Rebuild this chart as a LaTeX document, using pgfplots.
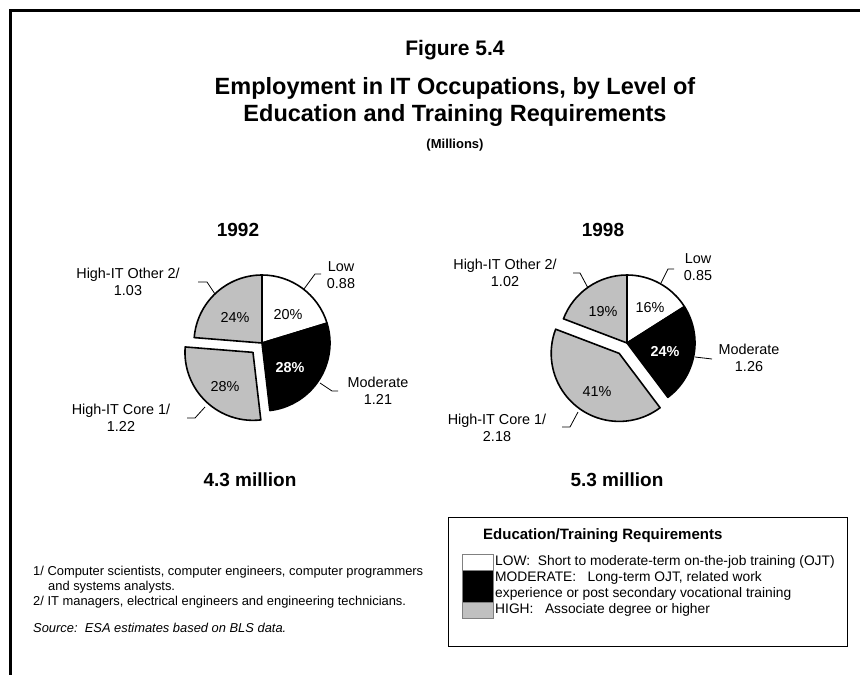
\documentclass[border=0pt]{standalone}
\usepackage{fontspec}
\setmainfont{Liberation Sans}
\usepackage{pgfplots}
\pgfplotsset{compat=1.18}
\usetikzlibrary{calc}

\definecolor{pieGray}{RGB}{192,192,192}

% employment, millions
\def\LowA{0.88}\def\ModA{1.21}\def\CoreA{1.22}\def\OthA{1.03}   % 1992
\def\LowB{0.85}\def\ModB{1.26}\def\CoreB{2.18}\def\OthB{1.02}   % 1998

\pgfmathsetmacro\TotA{\LowA+\ModA+\CoreA+\OthA}
\pgfmathsetmacro\aAi{90-360*\LowA/\TotA}
\pgfmathsetmacro\aAii{\aAi-360*\ModA/\TotA}
\pgfmathsetmacro\aAiii{\aAii-360*\CoreA/\TotA}
\pgfmathsetmacro\TotB{\LowB+\ModB+\CoreB+\OthB}
\pgfmathsetmacro\aBi{90-360*\LowB/\TotB}
\pgfmathsetmacro\aBii{\aBi-360*\ModB/\TotB}
\pgfmathsetmacro\aBiii{\aBii-360*\CoreB/\TotB}

% center x, center y, start, end, fill, explode
\newcommand\slice[6]{%
  \filldraw[fill=#5,draw=black,line width=1.6pt,line join=round]
    ($(axis cs:#1,#2)+({(#3+#4)/2}:#6pt)$) -- ++(#3:68pt)
    arc[start angle=#3,end angle=#4,radius=68pt] -- cycle;}

\tikzset{
  lbl/.style={align=center,inner sep=0pt,font=\fontsize{14.4}{16.5}\selectfont},
  small/.style={anchor=west,inner sep=0pt,font=\fontsize{12.9}{15}\selectfont},
  leg/.style={anchor=west,inner sep=0pt,font=\fontsize{13.8}{16}\selectfont},
  big/.style={inner sep=0pt,font=\fontsize{19}{22}\selectfont\bfseries},
  lead/.style={draw=black,line width=0.8pt},
}

\begin{document}
\begin{tikzpicture}
\begin{axis}[
  width=860pt,height=675pt,scale only axis,
  xmin=0,xmax=860,ymin=0,ymax=675,y dir=reverse,
  hide axis,clip=false,
]
% frame
\draw[line width=3pt] (axis cs:10.5,675) -- (axis cs:10.5,10.5) -- (axis cs:860,10.5);

% titles
\node[inner sep=0pt,font=\fontsize{21}{24}\selectfont\bfseries] at (axis cs:455,50) {Figure 5.4};
\node[inner sep=0pt,align=center,font=\fontsize{23.5}{27}\selectfont\bfseries] at (axis cs:455,102)
  {Employment in IT Occupations, by Level of\\Education and Training Requirements};
\node[inner sep=0pt,font=\fontsize{13}{15}\selectfont\bfseries] at (axis cs:455,145) {(Millions)};

% 1992 pie
\slice{262}{343}{90}{\aAi}{white}{0}
\slice{262}{343}{\aAi}{\aAii}{black}{0}
\slice{262}{343}{\aAii}{\aAiii}{pieGray}{13}
\slice{262}{343}{\aAiii}{-270}{pieGray}{0}
\node[big] at (axis cs:238,230) {1992};
\node[lbl] at (axis cs:288,315) {20\%};
\node[lbl] at (axis cs:235,318) {24\%};
\node[lbl,text=white,font=\fontsize{14.4}{16.5}\selectfont\bfseries] at (axis cs:290,368) {28\%};
\node[lbl] at (axis cs:225,387) {28\%};
\node[lbl] at (axis cs:341,275) {Low\\0.88};
\node[lbl] at (axis cs:378,391) {Moderate\\1.21};
\node[lbl] at (axis cs:128,282) {High-IT Other 2/\\1.03};
\node[lbl] at (axis cs:121,418) {High-IT Core 1/\\1.22};
\draw[lead] (axis cs:304,289) -- (axis cs:315,274) -- (axis cs:321,274);
\draw[lead] (axis cs:320,383) -- (axis cs:332,391) -- (axis cs:338,391);
\draw[lead] (axis cs:198,282) -- (axis cs:207,282) -- (axis cs:215,294);
\draw[lead] (axis cs:187,418) -- (axis cs:195,418) -- (axis cs:205,407);
\node[big] at (axis cs:250,480) {4.3 million};

% 1998 pie
\slice{627}{343}{90}{\aBi}{white}{0}
\slice{627}{343}{\aBi}{\aBii}{black}{0}
\slice{627}{343}{\aBii}{\aBiii}{pieGray}{13}
\slice{627}{343}{\aBiii}{-270}{pieGray}{0}
\node[big] at (axis cs:603,230) {1998};
\node[lbl] at (axis cs:650,308) {16\%};
\node[lbl] at (axis cs:603,312) {19\%};
\node[lbl,text=white,font=\fontsize{14.4}{16.5}\selectfont\bfseries] at (axis cs:665,352) {24\%};
\node[lbl] at (axis cs:597,392) {41\%};
\node[lbl] at (axis cs:698,267) {Low\\0.85};
\node[lbl] at (axis cs:749,358) {Moderate\\1.26};
\node[lbl] at (axis cs:505,273) {High-IT Other 2/\\1.02};
\node[lbl] at (axis cs:497,428) {High-IT Core 1/\\2.18};
\draw[lead] (axis cs:661,283) -- (axis cs:668,269) -- (axis cs:674,269);
\draw[lead] (axis cs:695,357) -- (axis cs:712,359);
\draw[lead] (axis cs:573,273) -- (axis cs:580,273) -- (axis cs:588,288);
\draw[lead] (axis cs:562,427) -- (axis cs:570,427) -- (axis cs:578,412);
\node[big] at (axis cs:617,480) {5.3 million};

% footnotes
\node[small] at (axis cs:33,572) {1/ Computer scientists, computer engineers, computer programmers};
\node[small] at (axis cs:48,587) {and systems analysts.};
\node[small] at (axis cs:33,602) {2/ IT managers, electrical engineers and engineering technicians.};
\node[small,font=\fontsize{12.9}{15}\selectfont\itshape] at (axis cs:33,628) {Source:\ \ ESA estimates based on BLS data.};

% legend box
\draw[line width=1pt] (axis cs:448,517) rectangle (axis cs:847,646);
\node[inner sep=0pt,anchor=west,font=\fontsize{15}{17}\selectfont\bfseries] at (axis cs:483,536) {Education/Training Requirements};
\filldraw[fill=white,draw=gray] (axis cs:462,554) rectangle (axis cs:493,570);
\filldraw[fill=black,draw=gray] (axis cs:462,570) rectangle (axis cs:493,602);
\filldraw[fill=pieGray,draw=gray] (axis cs:462,602) rectangle (axis cs:493,618);
\node[leg] at (axis cs:495,562) {LOW:\ \ Short to moderate-term on-the-job training (OJT)};
\node[leg] at (axis cs:495,578) {MODERATE:\ \ \ Long-term OJT, related work};
\node[leg] at (axis cs:495,594) {experience or post secondary vocational training};
\node[leg] at (axis cs:495,610) {HIGH:\ \ \ Associate degree or higher};
\end{axis}
\pgfresetboundingbox
\path (0,0) rectangle (860pt,675pt);
\end{tikzpicture}
\end{document}
